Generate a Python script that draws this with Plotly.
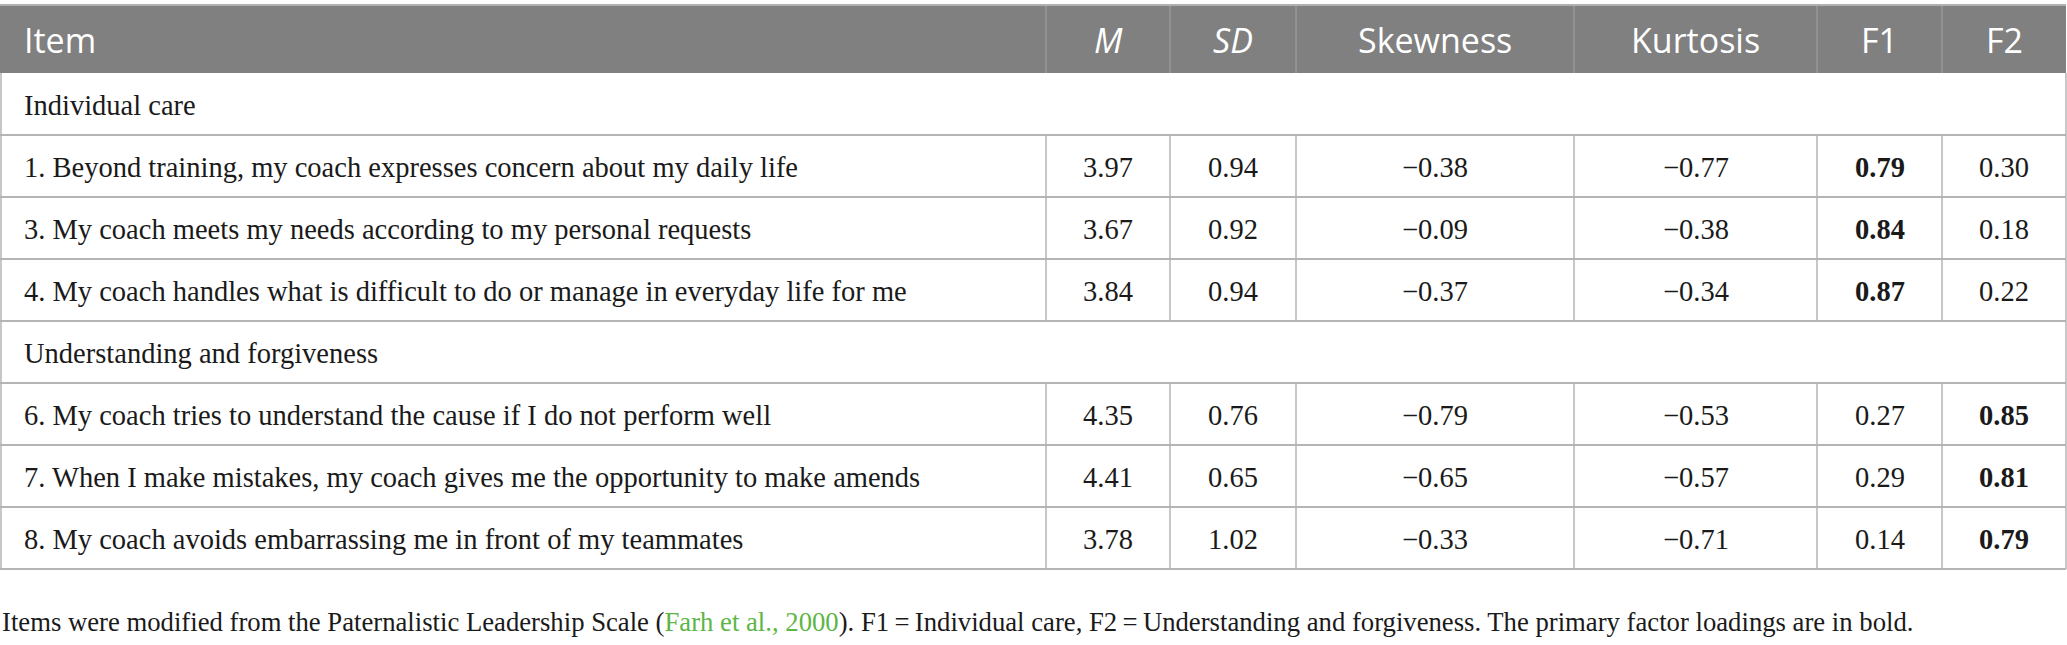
import plotly.graph_objects as go

# table content
headers = ["Item", "<i>M</i>", "<i>SD</i>", "Skewness", "Kurtosis", "F1", "F2"]
sections = ["Individual care", "Understanding and forgiveness"]
section_of_item = [0, 0, 0, 1, 1, 1]
items = [
    "1. Beyond training, my coach expresses concern about my daily life",
    "3. My coach meets my needs according to my personal requests",
    "4. My coach handles what is difficult to do or manage in everyday life for me",
    "6. My coach tries to understand the cause if I do not perform well",
    "7. When I make mistakes, my coach gives me the opportunity to make amends",
    "8. My coach avoids embarrassing me in front of my teammates",
]
mean = [3.97, 3.67, 3.84, 4.35, 4.41, 3.78]
sd = [0.94, 0.92, 0.94, 0.76, 0.65, 1.02]
skewness = [-0.38, -0.09, -0.37, -0.79, -0.65, -0.33]
kurtosis = [-0.77, -0.38, -0.34, -0.53, -0.57, -0.71]
f1 = [0.79, 0.84, 0.87, 0.27, 0.29, 0.14]
f2 = [0.30, 0.18, 0.22, 0.85, 0.81, 0.79]
primary = ["F1", "F1", "F1", "F2", "F2", "F2"]
note_pre = "Items were modified from the Paternalistic Leadership Scale ("
note_ref = "Farh et al., 2000"
note_post = "). F1\u2009=\u2009Individual care, F2\u2009=\u2009Understanding and forgiveness. The primary factor loadings are in bold."

W, H = 2067, 645
col_edges = [0, 1046, 1170, 1296, 1574, 1817, 1942, 2066]
head_top, head_bot = 5, 73
row_h = 62
line_col = "#b5b5b5"
head_bg = "#808080"
serif = "Liberation Serif"
sans = "Open Sans"
text_col = "#1a1a1a"
body_size = 28.5


def fmt(v):
    s = f"{abs(v):.2f}"
    return ("\u2212" + s) if v < 0 else s


# build row list: sections interleaved with items
rows = []
last = None
for i, sec in enumerate(section_of_item):
    if sec != last:
        rows.append(("section", sec))
        last = sec
    rows.append(("item", i))

shapes = []
annotations = []

# header
shapes.append(dict(type="rect", x0=col_edges[0], x1=col_edges[-1], y0=head_top, y1=head_bot,
                   fillcolor=head_bg, line=dict(width=0), layer="below"))
for x in col_edges[1:-1]:
    shapes.append(dict(type="line", x0=x, x1=x, y0=head_top, y1=head_bot,
                       line=dict(color="#a3a3a3", width=1)))
shapes.append(dict(type="line", x0=col_edges[0], x1=col_edges[-1], y0=head_top, y1=head_top,
                   line=dict(color="#b0b0b0", width=2)))
for j, h in enumerate(headers):
    if j == 0:
        x, anchor = col_edges[0] + 22, "left"
    else:
        x, anchor = (col_edges[j] + col_edges[j + 1]) / 2, "center"
    annotations.append(dict(x=x, y=(head_top + head_bot) / 2 + 1, text=h, showarrow=False,
                            xanchor=anchor, yanchor="middle",
                            font=dict(family=sans, size=34, color="white")))

# body
y = head_bot
for kind, idx in rows:
    y0, y1 = y, y + row_h
    yc = (y0 + y1) / 2 + 1
    if kind == "section":
        annotations.append(dict(x=col_edges[0] + 22, y=yc, text=sections[idx], showarrow=False,
                                xanchor="left", yanchor="middle",
                                font=dict(family=serif, size=body_size, color=text_col)))
    else:
        vals = [fmt(mean[idx]), fmt(sd[idx]), fmt(skewness[idx]), fmt(kurtosis[idx]),
                fmt(f1[idx]), fmt(f2[idx])]
        if primary[idx] == "F1":
            vals[4] = "<b>" + vals[4] + "</b>"
        else:
            vals[5] = "<b>" + vals[5] + "</b>"
        annotations.append(dict(x=col_edges[0] + 22, y=yc, text=items[idx], showarrow=False,
                                xanchor="left", yanchor="middle",
                                font=dict(family=serif, size=body_size, color=text_col)))
        for j, v in enumerate(vals, start=1):
            annotations.append(dict(x=(col_edges[j] + col_edges[j + 1]) / 2, y=yc, text=v,
                                    showarrow=False, xanchor="center", yanchor="middle",
                                    font=dict(family=serif, size=body_size, color=text_col)))
        for x in col_edges[1:-1]:
            shapes.append(dict(type="line", x0=x, x1=x, y0=y0, y1=y1,
                               line=dict(color=line_col, width=1.5)))
    shapes.append(dict(type="line", x0=col_edges[0], x1=col_edges[-1], y0=y1, y1=y1,
                       line=dict(color=line_col, width=2)))
    y = y1

# outer border of body
for x in (col_edges[0] + 1, col_edges[-1]):
    shapes.append(dict(type="line", x0=x, x1=x, y0=head_bot, y1=y,
                       line=dict(color=line_col, width=1.5)))

annotations.append(dict(
    x=0, y=622,
    text=note_pre + "<span style='color:#5cb646'>" + note_ref + "</span>" + note_post,
    showarrow=False, xanchor="left", yanchor="middle",
    font=dict(family=serif, size=26.7, color=text_col)))

fig = go.Figure()
fig.update_layout(
    width=W, height=H, autosize=False,
    margin=dict(l=0, r=0, t=0, b=0),
    paper_bgcolor="white", plot_bgcolor="white",
    xaxis=dict(range=[0, W], visible=False, fixedrange=True),
    yaxis=dict(range=[H, 0], visible=False, fixedrange=True),
    shapes=shapes, annotations=annotations, showlegend=False,
)

fig.write_html("out.html", config={"displayModeBar": False},
               post_script="document.body.style.margin='0';")
